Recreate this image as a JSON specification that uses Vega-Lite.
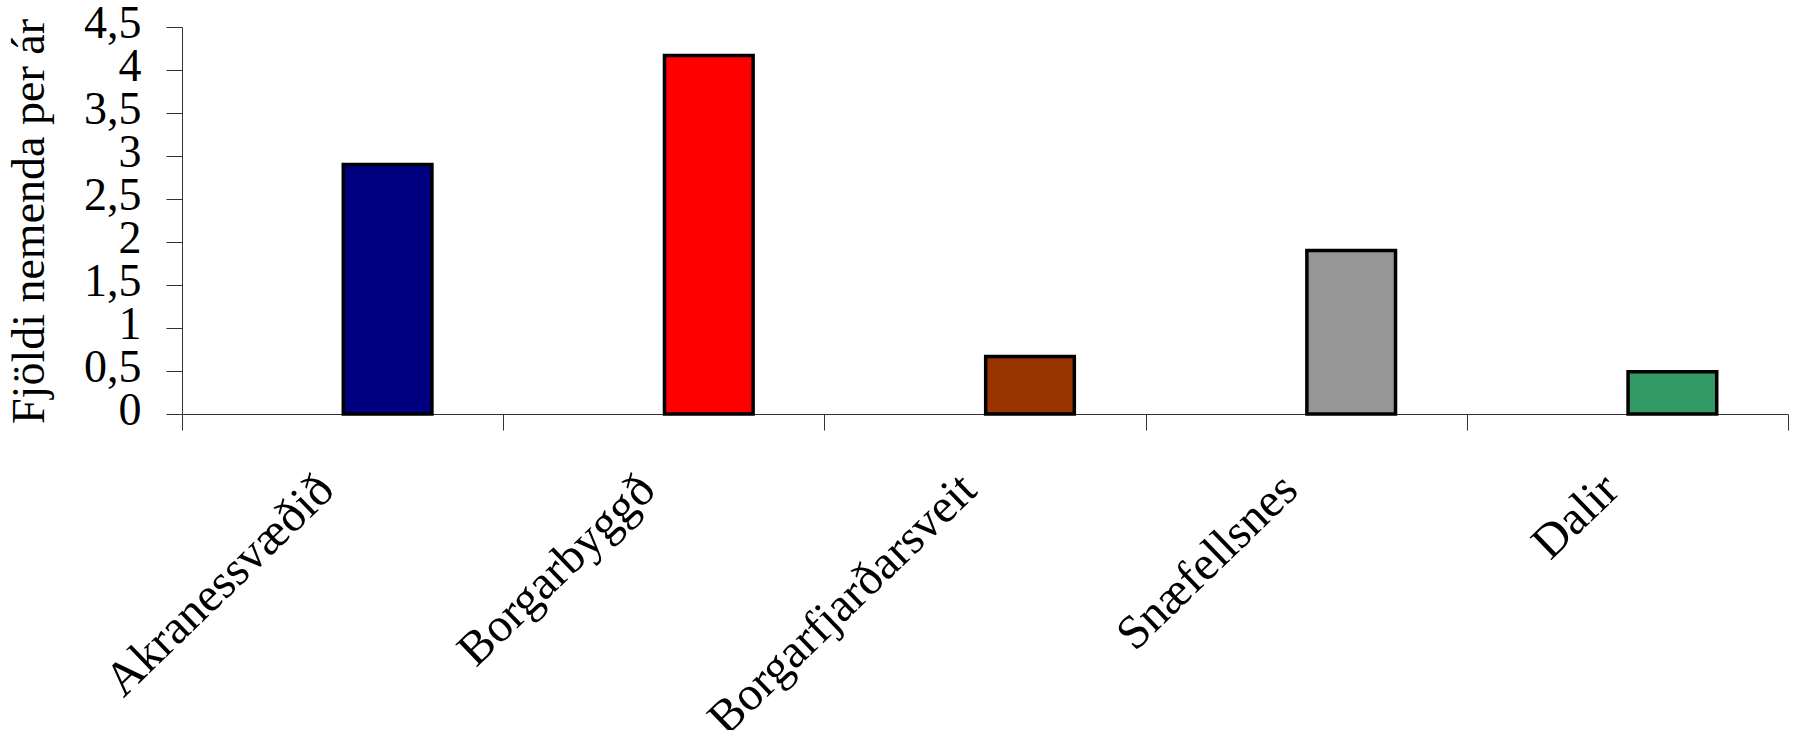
{
  "$schema": "https://vega.github.io/schema/vega-lite/v6.json",
  "autosize": {"type": "none"},
  "width": 1606,
  "height": 387,
  "padding": {"left": 182, "top": 27, "right": 9, "bottom": 316},
  "background": "white",
  "config": {
    "view": {"stroke": null},
    "font": "Liberation Serif"
  },
  "data": {
    "values": [
      {"svaedi": "Akranessvæðið", "fjoldi": 2.9, "litur": "#000080"},
      {"svaedi": "Borgarbyggð", "fjoldi": 4.17, "litur": "#FF0000"},
      {"svaedi": "Borgarfjarðarsveit", "fjoldi": 0.67, "litur": "#993300"},
      {"svaedi": "Snæfellsnes", "fjoldi": 1.9, "litur": "#969696"},
      {"svaedi": "Dalir", "fjoldi": 0.49, "litur": "#339966"}
    ]
  },
  "mark": {
    "type": "bar",
    "width": {"band": 0.276},
    "xOffset": 45,
    "stroke": "black",
    "strokeWidth": 3.5
  },
  "encoding": {
    "x": {
      "field": "svaedi",
      "type": "nominal",
      "sort": null,
      "scale": {"paddingInner": 0, "paddingOuter": 0},
      "axis": {
        "title": null,
        "tickBand": "extent",
        "tickSize": 16,
        "tickColor": "#333333",
        "domainColor": "#333333",
        "labelAngle": -44,
        "labelAlign": "right",
        "labelBaseline": "top",
        "labelPadding": 35,
        "labelOffset": -33,
        "labelFont": "Liberation Serif",
        "labelFontSize": 48,
        "labelColor": "black",
        "labelLimit": 0,
        "labelOverlap": false,
        "grid": false
      }
    },
    "y": {
      "field": "fjoldi",
      "type": "quantitative",
      "scale": {"domain": [0, 4.5], "nice": false},
      "axis": {
        "title": "Fjöldi nemenda per ár",
        "values": [0, 0.5, 1, 1.5, 2, 2.5, 3, 3.5, 4, 4.5],
        "labelExpr": "replace(format(datum.value, '.1~f'), '.', ',')",
        "labelOverlap": false,
        "tickSize": 16,
        "tickColor": "#333333",
        "domainColor": "#333333",
        "labelPadding": 25,
        "labelOffset": -4,
        "labelFont": "Liberation Serif",
        "labelFontSize": 46,
        "labelColor": "black",
        "titleFont": "Liberation Serif",
        "titleFontSize": 46,
        "titleFontWeight": "normal",
        "titleColor": "black",
        "titleAngle": -90,
        "titleBaseline": "alphabetic",
        "titleAlign": "center",
        "titleX": -139,
        "titleY": 194,
        "grid": false
      }
    },
    "color": {"field": "litur", "type": "nominal", "scale": null, "legend": null}
  }
}
